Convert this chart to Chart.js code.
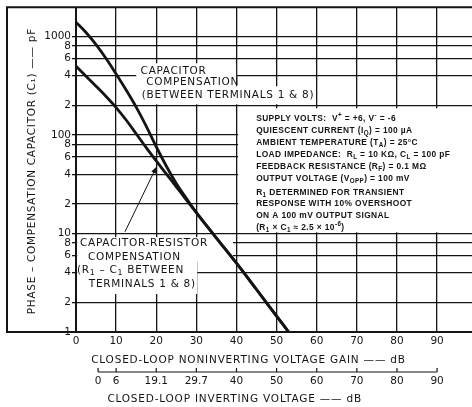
<!DOCTYPE html>
<html>
<head>
<meta charset="utf-8">
<script src="https://cdn.jsdelivr.net/npm/chart.js@4.4.0/dist/chart.umd.min.js"></script>
<style>
  html, body { margin: 0; padding: 0; background: #fff; }
  #wrap { width: 472px; height: 407px; }
</style>
</head>
<body>
<div id="wrap"><canvas id="compChart" width="472" height="407"></canvas></div>
<script>
// capacitor compensation (between terminals 1 & 8)
const capGain = [0, 2.5, 5, 7.5, 10, 12.5, 15, 17.5, 20, 22.5, 25, 27.5, 30, 35, 40, 45, 50, 53];
const capPf = [1400, 1100, 828, 597, 416, 286, 192, 123, 76, 48.5, 32.2, 22.8, 16.3, 9.0, 5.0, 2.7, 1.45, 1];

// capacitor-resistor compensation (R1-C1 between terminals 1 & 8)
const rcGain = [0, 2.5, 5, 7.5, 10, 12.5, 15, 17.5, 20, 22.5, 25, 27.5, 30, 35, 40, 45, 50, 53];
const rcPf = [500, 395, 313, 246, 190, 142, 103, 74.5, 54.6, 40.3, 29.8, 22, 16.3, 9.0, 5.0, 2.7, 1.45, 1];

const gainTicks = [0, 10, 20, 30, 40, 50, 60, 70, 80, 90];
const pfTicks = [1, 2, 4, 6, 8, 10, 20, 40, 60, 80, 100, 200, 400, 600, 800, 1000];
const pfTickLabels = ['1', '2', '4', '6', '8', '10', '2', '4', '6', '8', '100', '2', '4', '6', '8', '1000'];
const invTickPos = [5.5, 10, 20, 30, 40, 50, 60, 70, 80, 90];
const invTickLabels = ['0', '6', '19.1', '29.7', '40', '50', '60', '70', '80', '90'];

const conditionLines = [
    'SUPPLY VOLTS:  V^{+} = +6, V^{-} = -6',
    'QUIESCENT CURRENT (I_{Q}) = 100 \u00b5A',
    'AMBIENT TEMPERATURE (T_{A}) = 25\u00b0C',
    'LOAD IMPEDANCE:  R_{L} = 10 K\u03a9, C_{L} = 100 pF',
    'FEEDBACK RESISTANCE (R_{F}) = 0.1 M\u03a9',
    'OUTPUT VOLTAGE (V_{OPP}) = 100 mV',
    'R_{1} DETERMINED FOR TRANSIENT',
    'RESPONSE WITH 10% OVERSHOOT',
    'ON A 100 mV OUTPUT SIGNAL',
    '(R_{1} \u00d7 C_{1} \u2248 2.5 \u00d7 10^{-6})'
];
const conditionOffsets = [0, 12, 24, 36, 48, 60, 74, 85.5, 97, 109];

// annotation labels, anchored in gain (dB) / capacitance (pF)
const noteLabels = [
    { t: 'CAPACITOR', x: 16.1, y: 444 },
    { t: 'COMPENSATION', x: 17.5, y: 346 },
    { t: '(BETWEEN TERMINALS 1 & 8)', x: 16.4, y: 253 },
    { t: 'CAPACITOR-RESISTOR', x: 1.0, y: 7.94 },
    { t: 'COMPENSATION', x: 3.0, y: 5.76 },
    { t: '(R_{1} \u2013 C_{1} BETWEEN', x: 0.25, y: 4.25 },
    { t: 'TERMINALS 1 & 8)', x: 3.2, y: 3.05 }
];
// white backgrounds behind the labels
const noteBoxes = [
    { x0: 15.0, x1: 39.9, y0: 313, y1: 535 },
    { x0: 15.0, x1: 59.8, y0: 205, y1: 313 },
    { x0: 40.4, x1: 98.7, y0: 10.3, y1: 187 },
    { x0: 0.3, x1: 39.1, y0: 5.13, y1: 9.19 },
    { x0: 0.3, x1: 30.2, y0: 2.43, y1: 5.13 }
];
const arrowFrom = { x: 12.2, y: 10.4 };
const arrowTo = { x: 20.1, y: 48 };

const INK = '#141414';
const FONT = 'DejaVu Sans';

const drawRich = (ctx, str, x, y, size, weight, family) => {
    const parts = str.split(/([_^]\{[^}]*\})/);
    let cx = x;
    parts.forEach(p => {
        if (!p) return;
        let s = size, dy = 0, t = p;
        if (p.startsWith('_{')) {
            t = p.slice(2, -1); s = size * 0.75; dy = size * 0.3;
        } else if (p.startsWith('^{')) {
            t = p.slice(2, -1); s = size * 0.75; dy = -size * 0.35;
        }
        ctx.font = `${weight} ${s}px "${family}"`;
        ctx.fillText(t, cx, y + dy);
        cx += ctx.measureText(t).width;
    });
};

const notesPlugin = {
    id: 'notesPlugin',
    beforeDraw(chart) {
        const ctx = chart.ctx;
        ctx.save();
        ctx.fillStyle = '#fff';
        ctx.fillRect(0, 0, chart.width, chart.height);
        ctx.restore();
    },
    beforeDatasetsDraw(chart) {
        const ctx = chart.ctx;
        const xs = chart.scales.x, ys = chart.scales.y;
        ctx.save();
        ctx.fillStyle = '#fff';
        noteBoxes.forEach(b => {
            const l = xs.getPixelForValue(b.x0), r = xs.getPixelForValue(b.x1);
            const t = ys.getPixelForValue(b.y1), btm = ys.getPixelForValue(b.y0);
            ctx.fillRect(l, t, r - l, btm - t);
        });
        ctx.restore();
    },
    afterDatasetsDraw(chart) {
        const ctx = chart.ctx;
        const xs = chart.scales.x, ys = chart.scales.y;
        const area = chart.chartArea;
        ctx.save();

        // outer frame
        ctx.strokeStyle = INK;
        ctx.lineWidth = 2;
        ctx.beginPath();
        ctx.moveTo(chart.width, area.top);
        ctx.lineTo(7, area.top);
        ctx.lineTo(7, area.bottom);
        ctx.lineTo(chart.width, area.bottom);
        ctx.stroke();

        ctx.fillStyle = INK;
        ctx.textBaseline = 'middle';
        ctx.textAlign = 'left';

        ctx.letterSpacing = '0.7px';
        noteLabels.forEach(n => {
            drawRich(ctx, n.t, xs.getPixelForValue(n.x), ys.getPixelForValue(n.y), 10.5, 'normal', FONT);
        });

        ctx.letterSpacing = '0.4px';
        const cx0 = xs.getPixelForValue(44.9);
        const cy0 = ys.getPixelForValue(148);
        conditionLines.forEach((line, i) => {
            drawRich(ctx, line, cx0, cy0 + conditionOffsets[i], 8.4, 'bold', 'Liberation Sans');
        });
        ctx.letterSpacing = '0px';

        // arrow to the capacitor-resistor curve
        const ax0 = xs.getPixelForValue(arrowFrom.x), ay0 = ys.getPixelForValue(arrowFrom.y);
        const ax1 = xs.getPixelForValue(arrowTo.x), ay1 = ys.getPixelForValue(arrowTo.y);
        const ang = Math.atan2(ay1 - ay0, ax1 - ax0);
        ctx.lineWidth = 1;
        ctx.beginPath();
        ctx.moveTo(ax0, ay0);
        ctx.lineTo(ax1 - 5 * Math.cos(ang), ay1 - 5 * Math.sin(ang));
        ctx.stroke();
        ctx.beginPath();
        ctx.moveTo(ax1, ay1);
        ctx.lineTo(ax1 - 7 * Math.cos(ang) + 2.5 * Math.sin(ang), ay1 - 7 * Math.sin(ang) - 2.5 * Math.cos(ang));
        ctx.lineTo(ax1 - 7 * Math.cos(ang) - 2.5 * Math.sin(ang), ay1 - 7 * Math.sin(ang) + 2.5 * Math.cos(ang));
        ctx.closePath();
        ctx.fill();

        // bracket of the inverting-gain scale
        const by = 372;
        ctx.lineWidth = 1.2;
        ctx.beginPath();
        ctx.moveTo(xs.getPixelForValue(invTickPos[0]), by);
        ctx.lineTo(xs.getPixelForValue(invTickPos[invTickPos.length - 1]), by);
        invTickPos.forEach(v => {
            const px = xs.getPixelForValue(v);
            ctx.moveTo(px, by);
            ctx.lineTo(px, by - 4);
        });
        ctx.stroke();

        // axis titles
        ctx.textAlign = 'center';
        ctx.letterSpacing = '0.8px';
        ctx.font = `10.5px "${FONT}"`;
        ctx.fillText('CLOSED-LOOP NONINVERTING VOLTAGE GAIN \u2014\u2014 dB', 248.5, 360);
        ctx.fillText('CLOSED-LOOP INVERTING VOLTAGE \u2014\u2014 dB', 234.7, 399);

        ctx.translate(32, (area.top + area.bottom) / 2 + 1.5);
        ctx.rotate(-Math.PI / 2);
        ctx.letterSpacing = '0.7px';
        ctx.fillText('PHASE \u2013 COMPENSATION CAPACITOR (C\u2081) \u2014\u2014 pF', 0, 0);

        ctx.restore();
    }
};

const tickFont = { family: FONT, size: 10.5 };

const ctx = document.getElementById('compChart').getContext('2d');
const compChart = new Chart(ctx, {
    type: 'line',
    data: {
        datasets: [
            {
                label: 'Capacitor compensation',
                data: capGain.map((g, i) => ({ x: g, y: capPf[i] })),
                borderColor: INK,
                borderWidth: 2.8,
                pointRadius: 0,
                cubicInterpolationMode: 'monotone',
                fill: false
            },
            {
                label: 'Capacitor-resistor compensation',
                data: rcGain.map((g, i) => ({ x: g, y: rcPf[i] })),
                borderColor: INK,
                borderWidth: 2.8,
                pointRadius: 0,
                cubicInterpolationMode: 'monotone',
                fill: false
            }
        ]
    },
    options: {
        responsive: false,
        animation: false,
        layout: { padding: { top: 7, left: 0, right: 0, bottom: 0 } },
        plugins: {
            legend: { display: false },
            tooltip: { enabled: false }
        },
        scales: {
            x: {
                type: 'linear',
                position: 'bottom',
                weight: 0,
                min: 0,
                max: 98.7,
                afterBuildTicks: scale => { scale.ticks = gainTicks.map(v => ({ value: v })); },
                afterFit: scale => { scale.height = 37; },
                ticks: { font: tickFont, color: INK, padding: 3, autoSkip: false, maxRotation: 0 },
                grid: {
                    color: INK,
                    lineWidth: c => (c.tick && c.tick.value === 0 ? 2 : 1.3),
                    drawTicks: false
                },
                border: { display: false }
            },
            x2: {
                type: 'linear',
                position: 'bottom',
                weight: 1,
                min: 0,
                max: 98.7,
                afterBuildTicks: scale => { scale.ticks = invTickPos.map(v => ({ value: v })); },
                afterFit: scale => { scale.height = 38; },
                ticks: {
                    font: tickFont,
                    color: INK,
                    padding: 6,
                    autoSkip: false,
                    maxRotation: 0,
                    callback: (value, index) => invTickLabels[index]
                },
                grid: { display: false, drawTicks: false },
                border: { display: false }
            },
            y: {
                type: 'logarithmic',
                min: 1,
                max: 1980,
                afterBuildTicks: scale => { scale.ticks = pfTicks.map(v => ({ value: v })); },
                afterFit: scale => { scale.width = 76; },
                ticks: {
                    font: tickFont,
                    color: INK,
                    padding: 1,
                    autoSkip: false,
                    callback: (value, index) => pfTickLabels[index]
                },
                grid: {
                    color: INK,
                    lineWidth: c => (c.tick && c.tick.value === 1 ? 2 : 1.3),
                    tickLength: 4
                },
                border: { display: false }
            }
        }
    },
    plugins: [notesPlugin]
});
</script>
</body>
</html>
